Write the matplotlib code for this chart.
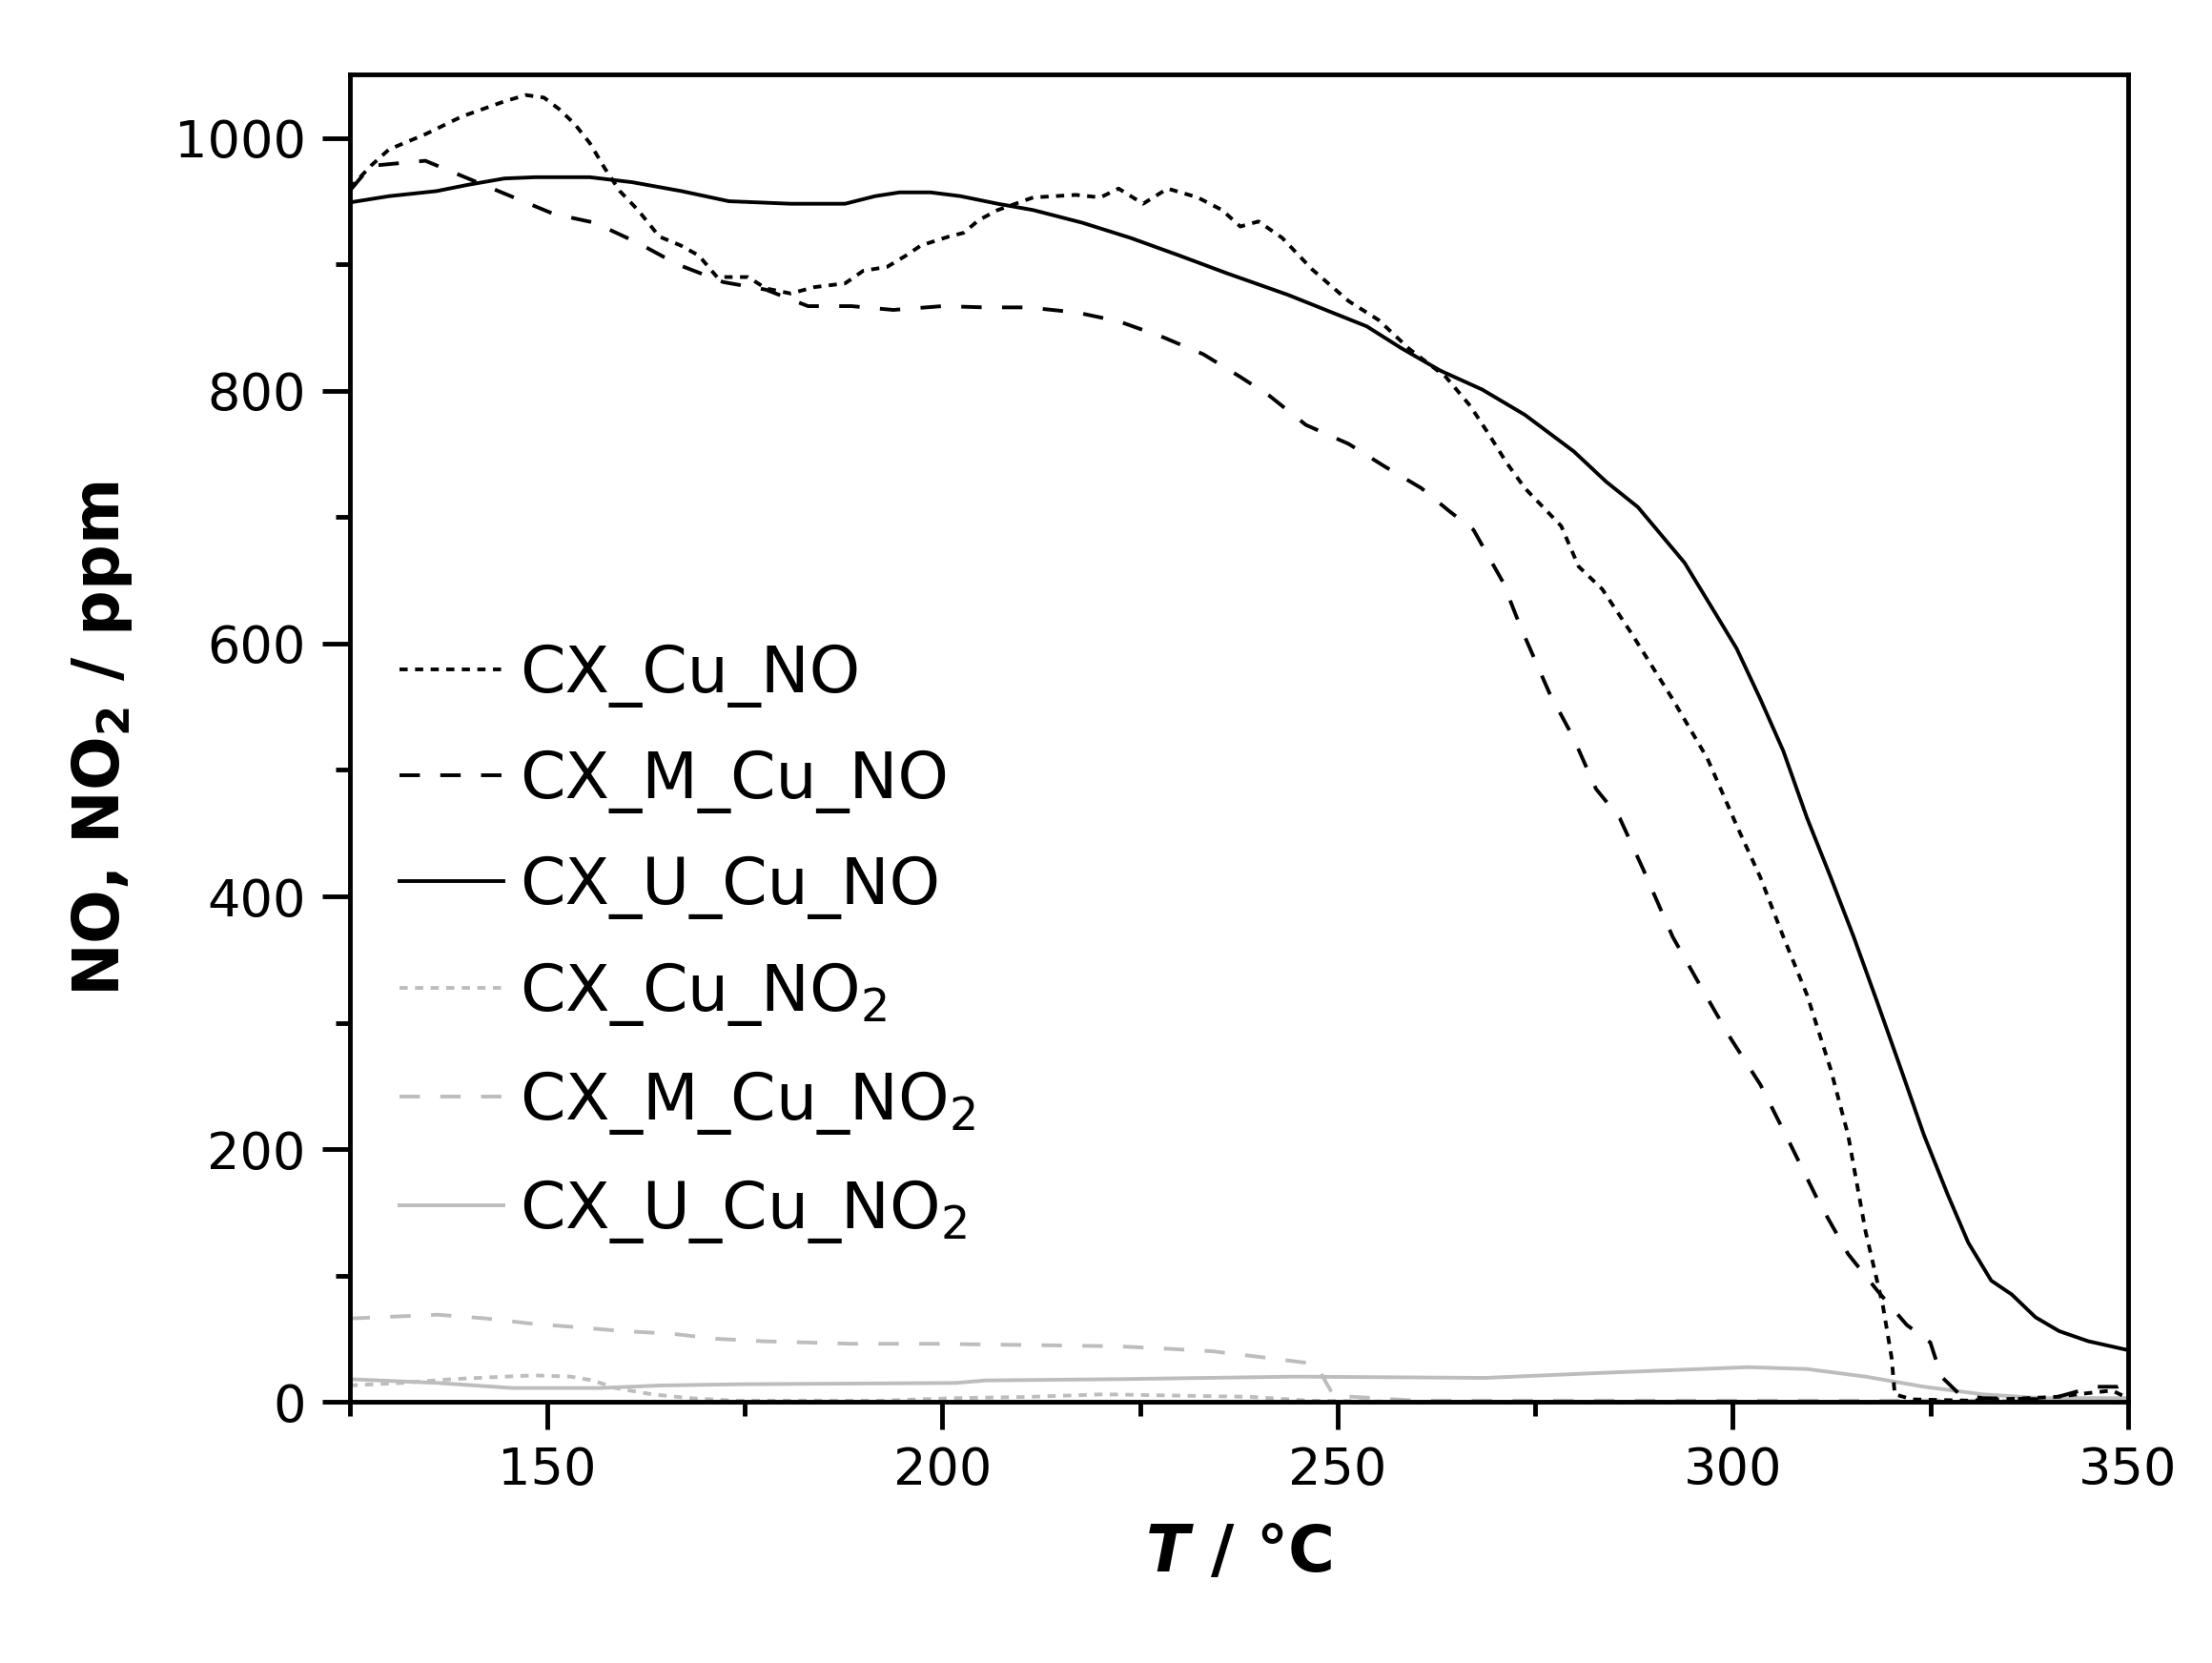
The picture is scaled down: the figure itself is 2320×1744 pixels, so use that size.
import matplotlib
matplotlib.use("Agg")
import matplotlib.pyplot as plt
from matplotlib.ticker import MultipleLocator

plt.rcParams['font.family'] = ['DejaVu Sans']
plt.rcParams['mathtext.fontset'] = 'dejavusans'

# CX_Cu_NO (black dotted)
cu_no_T = [125, 127.7, 130, 134.6, 139.2, 144.6, 147.3, 149.6, 151.5, 153.5, 155.4, 157.3,
           159.2, 161.5, 164.2, 166.9, 169.2, 171.5, 175.4, 177.7, 180.8, 183.8, 187.7, 190,
           193, 195.4, 197.3, 200.8, 202.7, 204.6, 207, 211.5, 216.9, 220, 222.3, 225.4,
           228.5, 232.3, 235.4, 237.7, 240, 243, 246.8, 251.4, 255.2, 259.1, 263.7, 266.8,
           269.1, 271.4, 273.7, 276, 278.3, 280.5, 283.5, 287.2, 292.4, 296.8, 300.5, 303.5,
           306.4, 309.4, 312.4, 314.6, 316.8, 319, 320.1, 320.5, 322.7, 330, 341, 345, 348, 350]
cu_no = [960, 978, 991, 1003, 1017, 1029, 1034, 1032, 1023, 1011, 996, 976,
         958, 943, 922, 915, 907, 890, 890, 881, 877, 882, 885, 895,
         898, 907, 915, 922, 925, 935, 943, 953, 955, 953, 960, 948,
         960, 953, 943, 930, 934, 921, 896, 871, 856, 833, 811, 788,
         766, 743, 723, 708, 693, 661, 643, 608, 556, 509, 456, 415,
         368, 322, 263, 211, 135, 76, 35, 6, 2, 1, 4, 7, 9, 3]

# CX_M_Cu_NO (black dashed)
m_cu_no_T = [125, 127.7, 134.6, 140, 145.4, 150.8, 156, 161.5, 166.5, 172.3, 177.7, 183,
             188.5, 193.8, 200, 205.4, 210.8, 217, 222.3, 227.7, 233, 237.7, 241.4, 246,
             251.4, 256, 260.6, 264.1, 267.2, 270.9, 273.1, 276.8, 279.8, 282.7, 285.7, 288.7,
             292.4, 296.1, 299.8, 303.5, 307.2, 310.9, 314.6, 318.3, 322, 325, 326.4, 328.7,
             331.6, 340, 345.7, 348.7, 350]
m_cu_no = [958, 978, 982, 968, 954, 940, 933, 917, 900, 886, 880, 867,
           867, 864, 867, 866, 866, 862, 855, 843, 829, 811, 796, 773,
           758, 740, 723, 705, 690, 649, 614, 561, 526, 485, 462, 421,
           368, 327, 287, 251, 205, 158, 117, 88, 61, 47, 20, 6,
           3, 2, 12, 12, 15]

# CX_U_Cu_NO (black solid)
u_cu_no_T = [125, 130, 136, 140, 144.6, 148.5, 155.4, 160.8, 167, 173, 180.8, 187.7,
             191.5, 194.6, 198.5, 202.3, 207, 211.5, 217.7, 223.8, 230, 236, 243.7, 253.7,
             258, 263, 268.3, 273.7, 279.9, 284, 288, 293.9, 297.6, 300.5, 303.5, 306.4,
             309.4, 312.4, 315.3, 318.3, 321.3, 324.2, 327.2, 329.8, 332.7, 335.3, 338.3, 341.3,
             345, 350]
u_cu_no = [949, 954, 958, 963, 968, 969, 969, 965, 958, 950, 948, 948,
           954, 957, 957, 954, 948, 943, 933, 921, 907, 893, 876, 851,
           834, 816, 801, 781, 752, 728, 708, 664, 626, 596, 556, 515,
           462, 415, 368, 316, 263, 211, 164, 126, 96, 85, 67, 56,
           48, 41]

# CX_Cu_NO2 (grey dotted)
cu_no2_T = [125, 131.5, 138, 144.6, 148.4, 153, 155.8, 158.6, 163.3, 168, 173.6, 192.3,
            201.7, 211, 220.4, 229.7, 239, 246.5, 260, 300, 350]
cu_no2 = [13, 15, 18, 20, 21, 20, 17, 11, 6, 3, 1, 1,
          3, 4, 6, 5, 4, 1, 0, 0, 0]

# CX_M_Cu_NO2 (grey dashed)
m_cu_no2_T = [125, 136.2, 142.3, 147.9, 154, 159.6, 165.7, 171.3, 177.3, 188.6, 198.8, 211,
              222.2, 228.7, 234.3, 240.9, 246, 247.4, 249.5, 260, 300, 350]
m_cu_no2 = [66, 69, 66, 62, 59, 56, 54, 50, 48, 46, 46, 45,
            44, 42, 40, 35, 31, 28, 5, 1, 1, 1]

# CX_U_Cu_NO2 (grey solid)
u_cu_no2_T = [125, 136.2, 145.6, 156.8, 164.3, 174.6, 201.7, 205.5, 222.2, 244.6, 268.7, 283.5,
              302, 309.4, 316.8, 324.2, 331.6, 339, 350]
u_cu_no2 = [18, 15, 11, 11, 13, 14, 15, 17, 18, 20, 19, 23,
            27.5, 26, 20, 12, 6, 3, 3]

dotted = (0, (2.2, 2))
dashed = (0, (5.5, 5.5))
grey = '#bdbdbd'
lw = 2.8

fig = plt.figure(figsize=(23.2, 17.44), dpi=100)
ax = fig.add_axes([0.158, 0.157, 0.804, 0.798])

ax.plot(cu_no_T, cu_no, color='black', linestyle=dotted, lw=lw, label='CX_Cu_NO', zorder=3)
ax.plot(m_cu_no_T, m_cu_no, color='black', linestyle=dashed, lw=lw, label='CX_M_Cu_NO', zorder=3)
ax.plot(u_cu_no_T, u_cu_no, color='black', linestyle='-', lw=lw, label='CX_U_Cu_NO', zorder=3)
ax.plot(cu_no2_T, cu_no2, color=grey, linestyle=dotted, lw=lw, label='CX_Cu_NO$_2$', zorder=2)
ax.plot(m_cu_no2_T, m_cu_no2, color=grey, linestyle=dashed, lw=lw, label='CX_M_Cu_NO$_2$', zorder=2)
ax.plot(u_cu_no2_T, u_cu_no2, color=grey, linestyle='-', lw=lw, label='CX_U_Cu_NO$_2$', zorder=2)

ax.set_xlim(125, 350)
ax.set_ylim(0, 1050)
ax.xaxis.set_major_locator(MultipleLocator(50))
ax.xaxis.set_minor_locator(MultipleLocator(25))
ax.yaxis.set_major_locator(MultipleLocator(200))
ax.yaxis.set_minor_locator(MultipleLocator(100))

for s in ax.spines.values():
    s.set_linewidth(3.5)
ax.tick_params(which='major', direction='out', length=21, width=3.5, labelsize=39, pad=12)
ax.tick_params(which='minor', direction='out', length=11, width=3.5)
ax.tick_params(top=False, right=False, which='both')

ax.set_xlabel('$\\mathbfit{T}$ / °C', fontsize=48, fontweight='bold', labelpad=20)
ax.set_ylabel('NO, NO$_\\mathbf{2}$ / ppm', fontsize=48, fontweight='bold', labelpad=30)

ax.legend(loc='upper left', bbox_to_anchor=(0.028, 0.572), frameon=False, fontsize=49,
          handlelength=1.6, handletextpad=0.25, labelspacing=0.63, borderpad=0, borderaxespad=0)

fig.savefig('out.png', dpi=100)
